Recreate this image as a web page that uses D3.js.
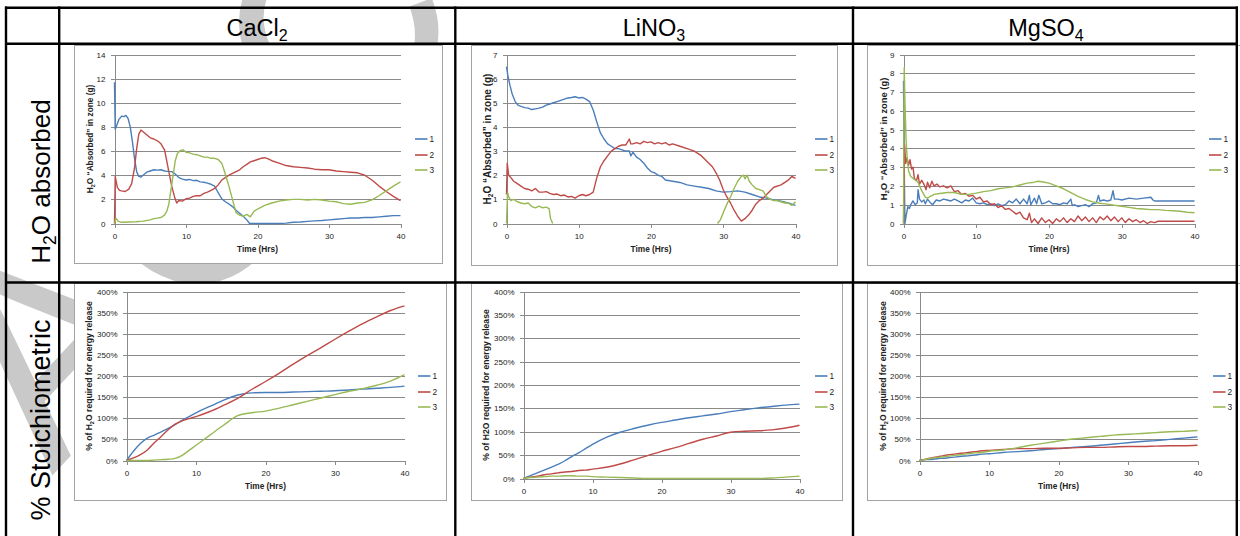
<!DOCTYPE html>
<html><head><meta charset="utf-8">
<script src="https://cdn.jsdelivr.net/npm/d3@7"></script>
<style>body{margin:0;background:#fff}svg{display:block}</style>
</head><body>
<svg id="c" width="1240" height="536"></svg>
<script>
// ---------------- DATA ----------------
const compounds = [["CaCl","2"],["LiNO","3"],["MgSO","4"]];
const rowLabels = ["absorbed", "% Stoichiometric"];
const seriesNames = ["1","2","3"];
const timeTicks = [0,10,20,30,40];
const cacl2Ticks = [0,2,4,6,8,10,12,14];
const lino3Ticks = [0,1,2,3,4,5,6,7];
const mgso4Ticks = [0,1,2,3,4,5,6,7,8,9];
const pctTicks = [0,50,100,150,200,250,300,350,400];

// H2O absorbed in zone (g)  [time (h), grams]
const cacl2Water1 = [[0,11.7],[0.1,7.8],[0.3,8.1],[0.6,8.6],[1.0,8.9],[1.3,8.85],[1.6,8.95],[1.9,8.7],[2.2,8.0],[2.5,6.8],[2.8,5.4],[3.1,4.3],[3.4,3.9],[3.7,3.85],[4.0,4.0],[4.5,4.25],[5.0,4.35],[5.5,4.45],[6.0,4.42],[6.5,4.45],[7.0,4.35],[7.5,4.32],[8.0,4.3],[8.5,4.1],[9.0,3.8],[9.5,3.68],[10,3.6],[10.5,3.65],[11,3.55],[11.5,3.58],[12,3.45],[12.5,3.42],[13,3.35],[13.5,3.25],[14,3.1],[14.5,2.55],[15,2.05],[15.5,1.8],[16,1.62],[16.5,1.4],[17,1.1],[17.5,0.85],[18,0.6],[18.5,0.3],[18.9,0],[20,0],[21,0],[22,0],[23,0],[24,0.03],[25,0.1],[26,0.12],[27,0.18],[28,0.22],[29,0.25],[30,0.3],[31,0.35],[32,0.4],[33,0.45],[34,0.45],[35,0.5],[36,0.5],[37,0.55],[38,0.6],[39,0.65],[40,0.65]];
const cacl2Water2 = [[0,0],[0.1,3.9],[0.2,3.6],[0.4,3.0],[0.7,2.75],[1.0,2.7],[1.5,2.65],[2.0,2.85],[2.4,3.3],[2.8,4.6],[3.1,6.2],[3.4,7.4],[3.7,7.75],[4.0,7.6],[4.5,7.35],[5.0,7.1],[5.5,7.0],[6.0,6.85],[6.5,6.6],[7.0,6.1],[7.3,5.2],[7.6,4.3],[8.0,3.1],[8.4,2.2],[8.7,1.7],[9.0,1.9],[9.5,1.85],[10,2.05],[10.5,2.1],[11,2.25],[11.5,2.3],[12,2.3],[12.5,2.5],[13,2.6],[13.5,2.75],[14,2.9],[14.5,3.2],[15,3.6],[15.5,3.8],[16,4.0],[16.5,4.15],[17,4.3],[17.5,4.45],[18,4.7],[18.5,4.9],[19,5.1],[19.5,5.2],[20,5.3],[20.5,5.4],[21,5.45],[21.5,5.35],[22,5.2],[23,5.0],[24,4.8],[25,4.7],[26,4.65],[27,4.6],[28,4.5],[29,4.45],[30,4.45],[31,4.35],[32,4.3],[33,4.25],[34,4.2],[35,4.0],[36,3.6],[37,3.1],[38,2.65],[39,2.25],[40,1.9]];
const cacl2Water3 = [[0,0],[0.2,0.45],[0.5,0.2],[1,0.1],[2,0.12],[3,0.15],[4,0.2],[5,0.3],[5.5,0.4],[6,0.45],[6.5,0.5],[7,0.7],[7.3,1.0],[7.6,1.6],[7.9,2.8],[8.2,4.0],[8.5,5.2],[8.8,5.8],[9.2,6.05],[9.6,6.1],[10,5.9],[10.5,5.85],[11,5.75],[11.5,5.7],[12,5.6],[12.5,5.5],[13,5.5],[13.5,5.4],[14,5.4],[14.5,5.3],[15,5.0],[15.5,4.1],[16,3.1],[16.5,2.0],[17,0.9],[17.5,0.7],[18,0.6],[18.5,0.75],[19,0.55],[19.5,1.0],[20,1.2],[21,1.5],[22,1.7],[23,1.85],[24,1.95],[25,2.0],[26,2.0],[27,1.95],[28,2.0],[29,1.95],[30,1.85],[31,1.8],[32,1.65],[33,1.6],[34,1.7],[35,1.75],[36,1.95],[37,2.3],[38,2.7],[39,3.1],[40,3.45]];

const lino3Water1 = [[0,6.5],[0.2,6.1],[0.5,5.7],[0.8,5.35],[1.2,5.05],[1.6,4.9],[2,4.85],[2.5,4.8],[3,4.78],[3.5,4.72],[4,4.75],[4.5,4.78],[5,4.82],[5.5,4.9],[6,4.95],[6.5,5.0],[7,5.05],[7.5,5.1],[8,5.15],[8.5,5.2],[9,5.22],[9.5,5.25],[10,5.2],[10.5,5.22],[11,5.15],[11.5,5.05],[12,4.7],[12.5,4.2],[13,3.75],[13.5,3.5],[14,3.3],[14.5,3.2],[15,3.1],[15.5,3.1],[16,3.05],[16.5,3.0],[17,3.0],[17.2,2.8],[17.5,2.95],[18,2.75],[18.5,2.65],[19,2.5],[19.5,2.3],[20,2.15],[20.5,2.1],[21,2.0],[21.5,1.95],[22,1.8],[23,1.75],[24,1.7],[25,1.6],[26,1.55],[27,1.5],[28,1.45],[29,1.35],[30,1.3],[31,1.32],[32,1.35],[33,1.3],[34,1.2],[35,1.1],[36,1.05],[37,0.98],[38,0.92],[39,0.85],[40,0.75]];
const lino3Water2 = [[0,1.2],[0.1,2.5],[0.3,2.0],[0.6,1.9],[1,1.75],[1.5,1.65],[2,1.55],[2.5,1.45],[3,1.42],[3.5,1.35],[4,1.45],[4.5,1.3],[5,1.3],[5.5,1.32],[6,1.25],[6.5,1.2],[7,1.22],[7.5,1.15],[8,1.18],[8.5,1.1],[9,1.12],[9.5,1.05],[10,1.15],[10.5,1.2],[11,1.15],[11.5,1.2],[12,1.3],[12.5,1.9],[13,2.35],[13.5,2.6],[14,2.8],[14.5,3.0],[15,3.1],[15.5,3.2],[16,3.25],[16.5,3.25],[17,3.5],[17.2,3.3],[17.5,3.3],[18,3.35],[18.5,3.3],[19,3.4],[19.5,3.35],[20,3.38],[20.5,3.3],[21,3.35],[21.5,3.3],[22,3.35],[22.5,3.25],[23,3.3],[24,3.2],[25,3.1],[26,3.0],[27,2.8],[28,2.5],[28.5,2.35],[29,2.1],[29.5,1.8],[30,1.4],[30.5,1.1],[31,0.85],[31.5,0.55],[32,0.3],[32.5,0.1],[33,0.2],[33.5,0.35],[34,0.55],[34.5,0.8],[35,0.95],[35.5,1.05],[36,1.2],[37,1.5],[38,1.6],[39,1.8],[39.5,1.95],[40,1.87]];
const lino3Water3 = [[0,0],[0.15,1.3],[0.3,1.1],[0.6,0.95],[1,1.0],[1.5,0.9],[2,0.85],[2.5,0.82],[3,0.85],[3.5,0.7],[4,0.65],[4.5,0.72],[5,0.65],[5.5,0.68],[5.9,0.62],[6.1,0.2],[6.4,0],[18,null],[29.2,0],[29.6,0.15],[30,0.45],[30.5,0.8],[31,1.1],[31.5,1.45],[32,1.75],[32.5,1.95],[32.8,2.0],[33,1.85],[33.3,2.0],[33.6,1.75],[34,1.6],[34.5,1.45],[35,1.4],[35.5,1.35],[36,1.1],[36.5,1.0],[37,0.95],[37.5,0.95],[38,0.9],[38.5,0.85],[39,0.85],[39.5,0.75],[40,0.9]];

const mgso4Water1 = [[0,7.6],[0.1,3.0],[0.2,0],[0.4,0.5],[0.6,0.9],[0.8,0.8],[1.0,1.0],[1.3,1.2],[1.6,1.0],[1.9,1.1],[2.0,1.8],[2.2,1.3],[2.5,1.15],[2.8,1.25],[3.0,1.05],[3.3,1.3],[3.6,1.15],[4.0,1.0],[4.5,1.25],[5,1.2],[5.5,1.3],[6,1.25],[6.5,1.2],[7,1.3],[7.5,1.2],[8,1.1],[8.5,1.25],[9,1.2],[9.5,1.35],[10,1.1],[10.5,1.05],[11,1.1],[11.5,1.0],[12,1.05],[12.5,0.95],[13,1.05],[13.5,0.95],[14,1.0],[14.5,1.2],[15,1.1],[15.5,1.3],[16,1.05],[16.5,1.3],[17,1.05],[17.3,1.5],[17.5,1.0],[18,1.35],[18.3,1.05],[18.6,1.5],[19,1.05],[19.5,1.1],[20,1.2],[20.5,1.05],[21,1.05],[21.5,1.0],[22,1.1],[22.5,1.05],[23,1.3],[23.2,0.95],[23.5,1.0],[24,0.9],[24.5,0.95],[25,1.0],[25.5,0.9],[26,1.05],[26.5,1.1],[26.8,1.5],[27,1.2],[27.5,1.25],[28,1.2],[28.5,1.25],[28.8,1.75],[29,1.3],[29.5,1.3],[30,1.25],[31,1.35],[32,1.3],[33,1.35],[34,1.4],[34.3,1.25],[34.5,1.2],[40,1.2]];
const mgso4Water2 = [[0,0],[0.15,4.2],[0.3,3.2],[0.5,3.5],[0.7,3.1],[0.9,3.4],[1.1,2.9],[1.3,3.0],[1.5,2.4],[1.8,2.3],[2.0,2.6],[2.2,2.1],[2.5,2.3],[2.8,2.1],[3.1,1.8],[3.3,2.2],[3.6,1.9],[3.9,2.25],[4.2,2.0],[4.6,2.1],[5,1.95],[5.5,2.0],[6,1.9],[6.5,2.0],[7,1.7],[7.5,1.75],[8,1.55],[8.5,1.6],[9,1.45],[9.5,1.5],[10,1.3],[10.5,1.4],[11,1.15],[11.5,1.2],[12,1.0],[12.5,1.05],[13,0.85],[13.5,0.95],[14,0.75],[14.5,0.8],[15,0.65],[15.5,0.5],[16,0.6],[16.5,0.3],[17,0.2],[17.3,0.55],[17.6,0.05],[18,0.25],[18.5,0],[19,0.3],[19.5,0.05],[20,0.2],[20.5,0],[21,0.25],[21.5,0.1],[22,0.3],[22.5,0.05],[23,0.25],[23.5,0.1],[24,0.4],[24.5,0.15],[25,0.35],[25.5,0.1],[26,0.3],[26.5,0.05],[27,0.35],[27.5,0.2],[28,0.4],[28.5,0.15],[29,0.35],[29.5,0.1],[30,0.3],[30.5,0.05],[31,0.25],[31.5,0.1],[32,0.2],[32.5,0.05],[33,0.15],[33.5,0],[34,0.1],[34.5,0.05],[35,0.12],[40,0.12]];
const mgso4Water3 = [[0,0],[0.1,8.3],[0.2,6.5],[0.35,4.5],[0.5,3.5],[0.7,2.8],[1,2.5],[1.5,2.35],[2,2.2],[2.5,1.75],[3,1.4],[3.3,1.35],[3.7,1.45],[4.2,1.55],[5,1.6],[6,1.65],[7,1.65],[7.5,1.6],[8,1.55],[9,1.55],[10,1.62],[11,1.7],[12,1.75],[13,1.85],[14,1.9],[15,1.95],[16,2.05],[17,2.15],[18,2.2],[18.5,2.25],[19,2.22],[20,2.15],[21,2.0],[22,1.85],[23,1.65],[24,1.45],[25,1.28],[26,1.15],[27,1.08],[28,1.03],[29,0.97],[30,0.92],[31,0.86],[32,0.8],[33,0.77],[34,0.74],[35,0.74],[36,0.7],[37,0.68],[38,0.65],[39,0.6],[40,0.57]];

// % of H2O required for energy release
const stoichHours = [0,1,2,3,4,5,6,7,8,9,10,12,14,16,18,20,22,24,26,28,30,32,34,36,38,40];
const cacl2Stoich1 = [0,22,40,53,60,68,76,85,95,104,113,128,143,155,160,161,161,162,163,164,165,167,169,171,173,176];
const cacl2Stoich2 = [0,6,14,25,42,57,73,86,94,99,104,116,131,147,168,187,207,228,248,267,287,306,324,340,355,366];
const cacl2Stoich3 = [0,0,0,0,1,2,3,5,12,24,36,60,84,106,113,117,124,132,140,148,156,164,170,178,188,203];
const lino3Stoich1 = [0,6,12,18,24,30,38,47,55,64,73,88,99,107,114,120,125,130,134,138,143,147,151,154,157,159];
const lino3Stoich2 = [0,3,5,8,10,12,14,15,17,18,20,24,31,40,49,58,66,75,84,91,99,101,102,104,108,114];
const lino3Stoich3 = [0,2,3,4,5,5,6,6,5,5,4,3,2,1,0,0,0,0,0,0,0,0,0,1,3,5];
const mgso4Stoich1 = [0,2,3,5,6,8,10,11,13,15,16,19,21,23,26,28,31,33,36,39,42,45,47,50,53,56];
const mgso4Stoich2 = [0,4,7,10,13,15,17,19,21,23,24,26,28,28,29,29,30,31,31,32,33,33,34,35,35,36];
const mgso4Stoich3 = [0,3,6,8,10,12,14,16,18,19,22,25,30,36,41,46,51,54,57,60,62,64,66,68,69,71];

// ---------------- DRAWING ----------------
const svg = d3.select("#c");
const colors = ["#4a7ebb", "#be4b48", "#98b954"];
const FONT = "'Liberation Sans', Arial, sans-serif";

svg.append("rect").attr("width",1240).attr("height",536).attr("fill","#fff");

// watermark (behind everything)
svg.append("text")
  .attr("transform","translate(52,476) rotate(-47)")
  .attr("font-family",FONT).attr("font-size",280).attr("letter-spacing",14).attr("fill","#c9c9c9")
  .text("ACCEPTED");

const toPairs = (ts, vs) => ts.map((t,i)=>[t, vs[i]]);

const charts = [
  {frame:[74,45,442,263], px:[114.5,400.5], py:[223.5,54.5], ticks:cacl2Ticks, fmt:d=>d,
   series:[cacl2Water1,cacl2Water2,cacl2Water3], smooth:false, legX:415, legY:[139,155,170],
   ytitle:"water", ytx:93, ytSize:8.3, xtitle:true},
  {frame:[471,45,837,265], px:[506.5,795.5], py:[223.5,54.5], ticks:lino3Ticks, fmt:d=>d,
   series:[lino3Water1,lino3Water2,lino3Water3], smooth:false, legX:815, legY:[139,155,170],
   ytitle:"water", ytx:490.5, ytSize:10, xtitle:true},
  {frame:[867,45,1250,265], px:[903.5,1194.5], py:[223.5,54.5], ticks:mgso4Ticks, fmt:d=>d,
   series:[mgso4Water1,mgso4Water2,mgso4Water3], smooth:false, legX:1209, legY:[139,155,170],
   ytitle:"water", ytx:886.5, ytSize:9.4, xtitle:true},
  {frame:[74,283,446,500], px:[126.5,404.5], py:[460.5,291.5], ticks:pctTicks, fmt:d=>d+"%",
   series:[toPairs(stoichHours,cacl2Stoich1),toPairs(stoichHours,cacl2Stoich2),toPairs(stoichHours,cacl2Stoich3)],
   smooth:true, legX:418, legY:[376,392,407], ytitle:"pctSub", ytx:92, ytSize:8.6, xtitle:true},
  {frame:[471,283,842,500], px:[523.5,799.5], py:[478.5,291.5], ticks:pctTicks, fmt:d=>d+"%",
   series:[toPairs(stoichHours,lino3Stoich1),toPairs(stoichHours,lino3Stoich2),toPairs(stoichHours,lino3Stoich3)],
   smooth:true, legX:815, legY:[376,392,407], ytitle:"pctPlain", ytx:489, ytSize:8.6, xtitle:false},
  {frame:[867,283,1250,500], px:[919.5,1197.5], py:[460.5,291.5], ticks:pctTicks, fmt:d=>d+"%",
   series:[toPairs(stoichHours,mgso4Stoich1),toPairs(stoichHours,mgso4Stoich2),toPairs(stoichHours,mgso4Stoich3)],
   smooth:true, legX:1213, legY:[376,392,407], ytitle:"pctSub", ytx:886, ytSize:8.6, xtitle:true}
];

charts.forEach(c=>{
  const g = svg.append("g").attr("font-family",FONT);
  const f = c.frame;
  g.append("rect").attr("x",f[0]+0.5).attr("y",f[1]+0.5).attr("width",f[2]-f[0]).attr("height",f[3]-f[1])
    .attr("fill","#fff").attr("stroke","#a3a3a3").attr("stroke-width",1);
  const ymax = c.ticks[c.ticks.length-1];
  const x = d3.scaleLinear().domain([timeTicks[0], timeTicks[timeTicks.length-1]]).range(c.px);
  const y = d3.scaleLinear().domain([0, ymax]).range(c.py);

  // gridlines
  const grid = g.append("g").attr("transform",`translate(${c.px[0]},0)`)
    .call(d3.axisLeft(y).tickValues(c.ticks.slice(1)).tickSize(-(c.px[1]-c.px[0])).tickFormat(""));
  grid.select(".domain").remove();
  grid.selectAll("line").attr("stroke","#8a8a8a").attr("stroke-width",1).attr("shape-rendering","crispEdges");

  // y axis
  const ya = g.append("g").attr("transform",`translate(${c.px[0]},0)`)
    .call(d3.axisLeft(y).tickValues(c.ticks).tickSize(4).tickSizeOuter(0).tickPadding(5).tickFormat(c.fmt));
  ya.select(".domain").attr("stroke","#8a8a8a").attr("shape-rendering","crispEdges");
  ya.selectAll("line").attr("stroke","#8a8a8a").attr("shape-rendering","crispEdges");
  ya.selectAll("text").attr("font-family",FONT).attr("font-size",8).attr("fill","#222");

  // x axis
  const xa = g.append("g").attr("transform",`translate(0,${c.py[0]})`)
    .call(d3.axisBottom(x).tickValues(timeTicks).tickSize(4).tickSizeOuter(0).tickPadding(5.5));
  xa.select(".domain").attr("stroke","#8a8a8a").attr("shape-rendering","crispEdges");
  xa.selectAll("line").attr("stroke","#8a8a8a").attr("shape-rendering","crispEdges");
  xa.selectAll("text").attr("font-family",FONT).attr("font-size",8).attr("fill","#222");

  // series
  const line = d3.line().defined(d=>d[1]!==null).x(d=>x(d[0])).y(d=>y(d[1]))
    .curve(c.smooth ? d3.curveMonotoneX : d3.curveLinear);
  c.series.forEach((s,i)=>{
    g.append("path").datum(s).attr("d",line).attr("fill","none")
      .attr("stroke",colors[i]).attr("stroke-width",1.4).attr("stroke-linejoin","round");
  });

  // legend
  seriesNames.forEach((n,i)=>{
    g.append("line").attr("x1",c.legX).attr("x2",c.legX+12.5).attr("y1",c.legY[i]).attr("y2",c.legY[i])
      .attr("stroke",colors[i]).attr("stroke-width",1.6);
    g.append("text").attr("x",c.legX+14.5).attr("y",c.legY[i]+3).attr("font-size",8.3).attr("fill","#222").text(n);
  });

  // x title
  if (c.xtitle) {
    g.append("text").attr("x",(c.px[0]+c.px[1])/2).attr("y",c.py[0]+28.5).attr("text-anchor","middle")
      .attr("font-size",8.3).attr("font-weight","bold").attr("fill","#222").text("Time (Hrs)");
  }
  // y title
  const cy = (c.py[0]+c.py[1])/2;
  const yt = g.append("text").attr("transform",`translate(${c.ytx},${cy}) rotate(-90)`)
    .attr("text-anchor","middle").attr("font-size",c.ytSize).attr("font-weight","bold").attr("fill","#222");
  const s = c.ytSize;
  if (c.ytitle==="water") {
    yt.append("tspan").text("H");
    yt.append("tspan").text("2").attr("font-size",s*0.65).attr("dy",s*0.22);
    yt.append("tspan").text("O  \u201CAbsorbed\u201D in zone (g)").attr("dy",-s*0.22);
  } else if (c.ytitle==="pctSub") {
    yt.append("tspan").text("% of H");
    yt.append("tspan").text("2").attr("font-size",s*0.65).attr("dy",s*0.22);
    yt.append("tspan").text("O required for energy release").attr("dy",-s*0.22);
  } else {
    yt.append("tspan").text("% of H2O required for energy release");
  }
});

// ---------------- TABLE ----------------
const tb = svg.append("g").attr("stroke","#000").attr("stroke-width",2.4);
const hLines = [[5,1238,7.8],[5,1238,43.8],[5,1238,282.5]];
hLines.forEach(([a,b,yy])=>tb.append("line").attr("x1",a).attr("x2",b).attr("y1",yy).attr("y2",yy));
const vLines = [6,59.2,455.3,853,1236.8];
vLines.forEach(xx=>tb.append("line").attr("x1",xx).attr("x2",xx).attr("y1",6.6).attr("y2",540));

// headers
const colCenters = [257,654,1046];
compounds.forEach(([base,sub],i)=>{
  const t = svg.append("text").attr("x",colCenters[i]).attr("y",36).attr("text-anchor","middle")
    .attr("font-family",FONT).attr("font-size",23.5).attr("fill","#000");
  t.append("tspan").text(base);
  t.append("tspan").text(sub).attr("font-size",16).attr("dy",5);
});

// row labels
const r1 = svg.append("text").attr("transform","translate(50,181.5) rotate(-90)").attr("text-anchor","middle")
  .attr("font-family",FONT).attr("font-size",26).attr("fill","#000");
r1.append("tspan").text("H");
r1.append("tspan").text("2").attr("font-size",17.5).attr("dy",5.5);
r1.append("tspan").text("O " + rowLabels[0]).attr("dy",-5.5);
svg.append("text").attr("transform","translate(50,420) rotate(-90)").attr("text-anchor","middle")
  .attr("font-family",FONT).attr("font-size",27).attr("fill","#000").text(rowLabels[1]);
</script>
</body></html>
